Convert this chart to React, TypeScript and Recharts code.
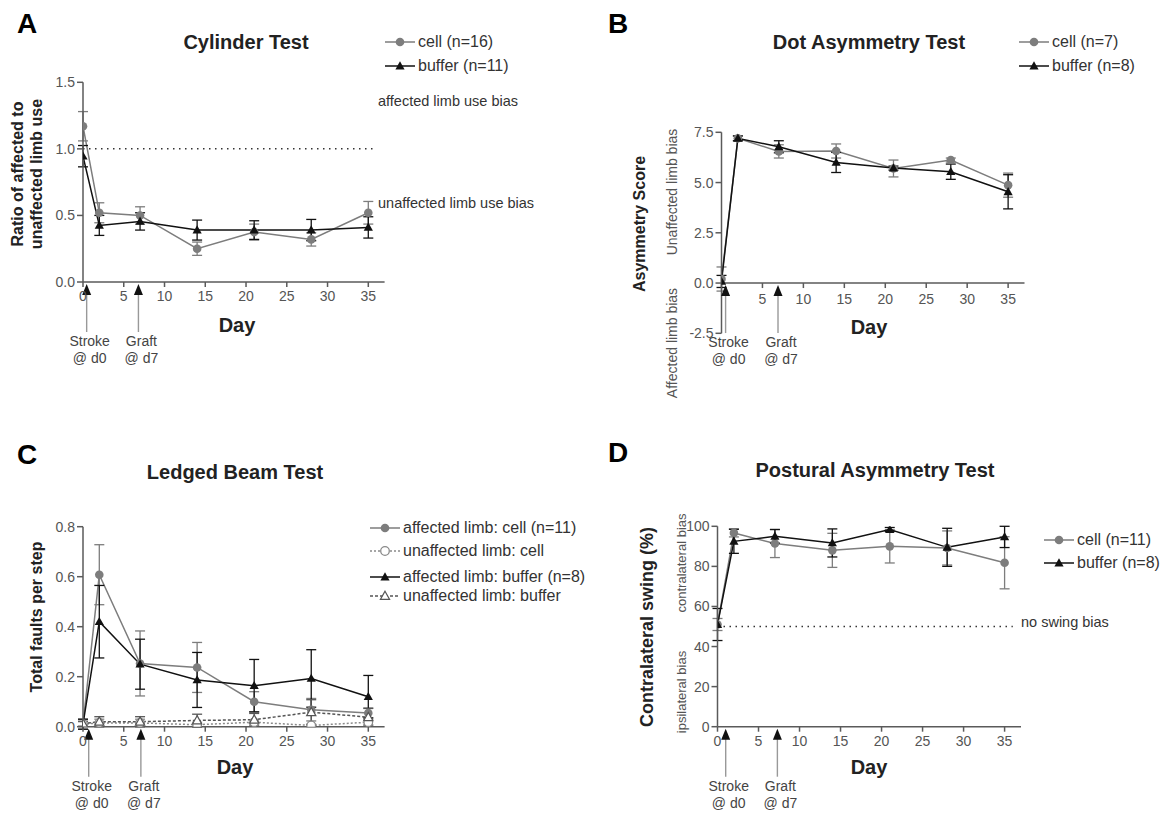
import React from 'react';
import { LineChart, Line, XAxis, YAxis, ErrorBar, ReferenceLine, ReferenceDot } from 'recharts';

const days = [0, 2, 7, 14, 21, 28, 35];
const dayTicks = [0, 5, 10, 15, 20, 25, 30, 35];

// A - Cylinder Test
const cylinderCell = [1.17, 0.52, 0.5, 0.25, 0.375, 0.32, 0.52];
const cylinderCellErr = [0.11, 0.075, 0.065, 0.05, 0.06, 0.05, 0.085];
const cylinderBuffer = [0.945, 0.425, 0.455, 0.39, 0.39, 0.39, 0.41];
const cylinderBufferErr = [0.08, 0.075, 0.065, 0.075, 0.07, 0.08, 0.08];
const cylinderTicks = [0, 0.5, 1, 1.5];

// B - Dot Asymmetry Test
const dotCell = [0.2, 7.2, 6.55, 6.57, 5.7, 6.12, 4.87];
const dotCellErr = [0.6, 0.12, 0.33, 0.35, 0.42, 0.1, 0.6];
const dotBuffer = [0.08, 7.2, 6.78, 6.0, 5.72, 5.54, 4.54];
const dotBufferErr = [0.3, 0.12, 0.3, 0.5, 0.1, 0.38, 0.85];
const dotTicks = [-2.5, 0, 2.5, 5, 7.5];

// C - Ledged Beam Test
const beamCell = [0.01, 0.608, 0.253, 0.237, 0.1, 0.068, 0.055];
const beamCellErr = [0.02, 0.12, 0.13, 0.1, 0.04, 0.045, 0.02];
const beamCellUnaff = [0.01, 0.015, 0.015, 0.008, 0.018, 0.005, 0.018];
const beamCellUnaffErr = [0.01, 0.015, 0.015, 0.01, 0.01, 0.005, 0.01];
const beamBuffer = [0.01, 0.42, 0.25, 0.187, 0.164, 0.193, 0.12];
const beamBufferErr = [0.02, 0.145, 0.1, 0.11, 0.105, 0.115, 0.085];
const beamBufferUnaff = [0.012, 0.02, 0.02, 0.025, 0.028, 0.058, 0.038];
const beamBufferUnaffErr = [0.01, 0.02, 0.02, 0.025, 0.025, 0.05, 0.035];
const beamTicks = [0, 0.2, 0.4, 0.6, 0.8];

// D - Postural Asymmetry Test
const postCell = [51, 96.7, 91.4, 88, 90, 89.2, 81.8];
const postCellErr = [3, 2, 7, 8.5, 8.3, 8.5, 13];
const postBuffer = [51, 92.5, 95, 91.7, 98.4, 89.5, 94.7];
const postBufferErr = [8, 6, 3.4, 7, 1, 9.5, 5.3];
const postTicks = [0, 20, 40, 60, 80, 100];

const GRAY = '#7d7d7d';
const BLACK = '#111';
const AXIS = '#5a5a5a';
const FONT = '"Liberation Sans", Arial, Helvetica, sans-serif';

type Shape = 'circle' | 'triangle' | 'openCircle' | 'openTriangle';
type Series = { key: string; err: string; name: string; color: string; shape: Shape; dash?: string };

const cellSeries: Series = { key: 'cell', err: 'cellErr', name: 'cell', color: GRAY, shape: 'circle' };
const bufferSeries: Series = { key: 'buffer', err: 'bufferErr', name: 'buffer', color: BLACK, shape: 'triangle' };

const rows = (cols: Record<string, number[]>) =>
  days.map((day, i) => {
    const r: Record<string, number> = { day };
    Object.keys(cols).forEach((k) => (r[k] = cols[k][i]));
    return r;
  });

const cylinderData = rows({ cell: cylinderCell, cellErr: cylinderCellErr, buffer: cylinderBuffer, bufferErr: cylinderBufferErr });
const dotData = rows({ cell: dotCell, cellErr: dotCellErr, buffer: dotBuffer, bufferErr: dotBufferErr });
const beamData = rows({
  cell: beamCell, cellErr: beamCellErr, cellU: beamCellUnaff, cellUErr: beamCellUnaffErr,
  buffer: beamBuffer, bufferErr: beamBufferErr, bufferU: beamBufferUnaff, bufferUErr: beamBufferUnaffErr,
});
const postData = rows({ cell: postCell, cellErr: postCellErr, buffer: postBuffer, bufferErr: postBufferErr });

const beamSeries: Series[] = [
  { ...cellSeries, name: 'affected limb: cell (n=11)' },
  { key: 'cellU', err: 'cellUErr', name: 'unaffected limb: cell', color: '#8a8a8a', shape: 'openCircle', dash: '2 2' },
  { ...bufferSeries, name: 'affected limb: buffer (n=8)' },
  { key: 'bufferU', err: 'bufferUErr', name: 'unaffected limb: buffer', color: '#555', shape: 'openTriangle', dash: '3 2' },
];

function Marker({ cx, cy, shape, color }: { cx?: number; cy?: number; shape: Shape; color: string }) {
  if (cx == null || cy == null) return null;
  const open = shape === 'openCircle' || shape === 'openTriangle';
  if (shape === 'circle' || shape === 'openCircle') {
    return <circle cx={cx} cy={cy} r={4.3} fill={open ? '#fff' : color} stroke={color} strokeWidth={open ? 1.3 : 0} />;
  }
  return (
    <path
      d={`M${cx},${cy - 4.8}L${cx + 4.6},${cy + 3.4}L${cx - 4.6},${cy + 3.4}Z`}
      fill={open ? '#fff' : color}
      stroke={color}
      strokeWidth={open ? 1.2 : 0}
    />
  );
}

function Arrow({ cx, cy, top, bottom }: { cx: number; cy: number; top: string; bottom: string }) {
  return (
    <g>
      <line x1={cx} x2={cx} y1={cy + 10} y2={cy + 50} stroke="#999" strokeWidth={1.4} />
      <path d={`M${cx},${cy + 2}L${cx + 4.5},${cy + 13}L${cx - 4.5},${cy + 13}Z`} fill={BLACK} />
      <text x={cx + 3} y={cy + 64} textAnchor="middle" fontSize={14} fill="#444">{top}</text>
      <text x={cx + 3} y={cy + 81} textAnchor="middle" fontSize={14} fill="#444">{bottom}</text>
    </g>
  );
}

type Box = { left: number; top: number; width: number; height: number };
type Plot = { left: number; right: number; top: number; bottom: number };

function Panel(props: {
  box: Box; plot: Plot; data: Record<string, number>[]; yDomain: [number, number]; yTicks: number[];
  fmt: (v: number) => string; series: Series[]; axisAtZero?: boolean; refY?: number;
  strokeDay: number; graftDay: number;
}) {
  const { box, plot, data, yDomain, yTicks, fmt, series, axisAtZero, refY, strokeDay, graftDay } = props;
  const YW = 45;
  const XH = 40;
  const margin = {
    left: plot.left - box.left - YW,
    top: plot.top - box.top,
    right: box.left + box.width - plot.right,
    bottom: box.top + box.height - plot.bottom - XH,
  };
  const shift = axisAtZero ? ((plot.bottom - plot.top) * (0 - yDomain[0])) / (yDomain[1] - yDomain[0]) : 0;
  const axisY = axisAtZero ? 0 : yDomain[0];
  const axisLine = { stroke: AXIS, strokeWidth: 1.5 };
  return (
    <div style={{ position: 'absolute', left: box.left, top: box.top }}>
      <LineChart width={box.width} height={box.height} data={data} margin={margin}>
        {axisAtZero ? (
          <XAxis
            type="number" dataKey="day" domain={[0, 37]} ticks={dayTicks.slice(1)} interval={0} allowDataOverflow
            height={XH} axisLine={false} tickLine={false} tickSize={0} tickMargin={0}
            tick={(p: any) => (
              <g transform={`translate(${p.x},${p.y - shift})`}>
                <line y1={0} y2={5} stroke={AXIS} strokeWidth={1.5} />
                <text y={21} textAnchor="middle" fontSize={14} fill="#555">{p.payload.value}</text>
              </g>
            )}
          />
        ) : (
          <XAxis
            type="number" dataKey="day" domain={[0, 37]} ticks={dayTicks} interval={0} allowDataOverflow
            height={XH} axisLine={axisLine} tickLine={axisLine} tickSize={5} tickMargin={4}
            tick={{ fill: '#555', fontSize: 14 }}
          />
        )}
        <YAxis
          type="number" domain={yDomain} ticks={yTicks} interval={0} allowDataOverflow width={YW}
          axisLine={axisLine} tickLine={axisLine} tickSize={6} tickMargin={2} tickFormatter={fmt}
          tick={{ fill: '#555', fontSize: 14 }}
        />
        {axisAtZero && <ReferenceLine y={0} stroke={AXIS} strokeWidth={1.5} />}
        {refY != null && (
          <ReferenceLine
            segment={[{ x: 0, y: refY }, { x: 36, y: refY }]}
            stroke="#333" strokeWidth={1.5} strokeDasharray="1.5 4.5"
          />
        )}
        {series.map((s) => (
          <Line
            key={s.key} type="linear" dataKey={s.key} stroke={s.color} strokeWidth={1.5}
            strokeDasharray={s.dash} isAnimationActive={false} activeDot={false}
            dot={(p: any) => <Marker key={`${s.key}-${p.index}`} cx={p.cx} cy={p.cy} shape={s.shape} color={s.color} />}
          >
            <ErrorBar dataKey={s.err} direction="y" width={5} stroke={s.color} strokeWidth={1.3} isAnimationActive={false} />
          </Line>
        ))}
        <ReferenceDot x={strokeDay} y={axisY} r={0}
          shape={(p: any) => <Arrow cx={p.cx} cy={p.cy} top="Stroke" bottom="@ d0" />} />
        <ReferenceDot x={graftDay} y={axisY} r={0}
          shape={(p: any) => <Arrow cx={p.cx} cy={p.cy} top="Graft" bottom="@ d7" />} />
      </LineChart>
    </div>
  );
}

function Txt(props: {
  x: number; y: number; children: React.ReactNode; size?: number; bold?: boolean; color?: string;
  rotate?: boolean; left?: boolean; lh?: number;
}) {
  const { x, y, children, size = 14, bold = false, color = '#222', rotate = false, left = false, lh = 1.2 } = props;
  return (
    <div
      style={{
        position: 'absolute', left: x, top: y, fontSize: size, fontWeight: bold ? 700 : 400, color,
        whiteSpace: 'nowrap', lineHeight: lh, textAlign: 'center',
        transform: `translate(${left ? '0' : '-50%'}, -50%)${rotate ? ' rotate(-90deg)' : ''}`,
      }}
    >
      {children}
    </div>
  );
}

function LegendRows({ left, ys, series, labels }: { left: number; ys: number[]; series: Series[]; labels: string[] }) {
  return (
    <>
      {series.map((s, i) => (
        <div
          key={s.key}
          style={{
            position: 'absolute', left, top: ys[i] - 10, height: 20, display: 'flex', alignItems: 'center',
            fontSize: 16, color: '#333', whiteSpace: 'nowrap',
          }}
        >
          <svg width={30} height={12}>
            <line x1={0} x2={30} y1={6} y2={6} stroke={s.color} strokeWidth={1.5} strokeDasharray={s.dash} />
            <Marker cx={15} cy={6} shape={s.shape} color={s.color} />
          </svg>
          <span style={{ marginLeft: 3 }}>{labels[i]}</span>
        </div>
      ))}
    </>
  );
}

export default function App() {
  const one = (v: number) => v.toFixed(1);
  const int = (v: number) => String(v);
  return (
    <div style={{ position: 'absolute', left: 0, top: 0, width: 1169, height: 815, background: '#fff', fontFamily: FONT, overflow: 'hidden' }}>
      <Panel
        box={{ left: 0, top: 0, width: 580, height: 400 }}
        plot={{ left: 83, right: 384.6, top: 82.3, bottom: 282 }}
        data={cylinderData} yDomain={[0, 1.5]} yTicks={cylinderTicks} fmt={one}
        series={[cellSeries, bufferSeries]} refY={1} strokeDay={0.45} graftDay={6.8}
      />
      <Panel
        box={{ left: 580, top: 0, width: 589, height: 400 }}
        plot={{ left: 721.5, right: 1024.5, top: 132.3, bottom: 333.3 }}
        data={dotData} yDomain={[-2.5, 7.5]} yTicks={dotTicks} fmt={one}
        series={[cellSeries, bufferSeries]} axisAtZero strokeDay={0.5} graftDay={6.9}
      />
      <Panel
        box={{ left: 0, top: 400, width: 580, height: 415 }}
        plot={{ left: 83, right: 384.6, top: 526.7, bottom: 726.7 }}
        data={beamData} yDomain={[0, 0.8]} yTicks={beamTicks} fmt={one}
        series={beamSeries} strokeDay={0.7} graftDay={7.1}
      />
      <Panel
        box={{ left: 580, top: 400, width: 589, height: 415 }}
        plot={{ left: 717.5, right: 1021, top: 526.3, bottom: 726.7 }}
        data={postData} yDomain={[0, 100]} yTicks={postTicks} fmt={int}
        series={[cellSeries, bufferSeries]} refY={50} strokeDay={1} graftDay={7.3}
      />

      {/* panel letters */}
      <Txt x={27} y={24} size={28} bold color="#000">A</Txt>
      <Txt x={618} y={24} size={28} bold color="#000">B</Txt>
      <Txt x={27} y={455} size={28} bold color="#000">C</Txt>
      <Txt x={618} y={453} size={28} bold color="#000">D</Txt>

      {/* titles */}
      <Txt x={246} y={42} size={20} bold>Cylinder Test</Txt>
      <Txt x={869} y={42} size={20} bold>Dot Asymmetry Test</Txt>
      <Txt x={235} y={472} size={20} bold>Ledged Beam Test</Txt>
      <Txt x={875} y={470} size={20} bold>Postural Asymmetry Test</Txt>

      {/* x labels */}
      <Txt x={237} y={325} size={20} bold>Day</Txt>
      <Txt x={869} y={327} size={20} bold>Day</Txt>
      <Txt x={235} y={767} size={20} bold>Day</Txt>
      <Txt x={869} y={767} size={20} bold>Day</Txt>

      {/* y labels */}
      <Txt x={27} y={174} size={16} bold rotate>Ratio of affected to<br />unaffected limb use</Txt>
      <Txt x={640} y={224} size={16} bold rotate>Asymmetry Score</Txt>
      <Txt x={672} y={192} size={14} color="#555" rotate>Unaffected limb bias</Txt>
      <Txt x={672} y={343} size={14} color="#555" rotate>Affected limb bias</Txt>
      <Txt x={37} y={617} size={16} bold rotate>Total faults per step</Txt>
      <Txt x={648} y={627} size={18} bold rotate>Contralateral swing (%)</Txt>
      <Txt x={682} y={563} size={13} color="#555" rotate>contralateral bias</Txt>
      <Txt x={682} y={692} size={13} color="#555" rotate>ipsilateral bias</Txt>

      {/* annotations */}
      <Txt x={378} y={102} size={14.5} color="#333" left>affected limb use bias</Txt>
      <Txt x={378} y={204} size={14.5} color="#333" left>unaffected limb use bias</Txt>
      <Txt x={1021} y={623} size={14.5} color="#333" left>no swing bias</Txt>

      {/* legends */}
      <LegendRows left={385} ys={[42, 66]} series={[cellSeries, bufferSeries]} labels={['cell (n=16)', 'buffer (n=11)']} />
      <LegendRows left={1019} ys={[42, 66]} series={[cellSeries, bufferSeries]} labels={['cell (n=7)', 'buffer (n=8)']} />
      <LegendRows left={370} ys={[528, 551, 577, 596]} series={beamSeries} labels={beamSeries.map((s) => s.name)} />
      <LegendRows left={1044} ys={[540, 563]} series={[cellSeries, bufferSeries]} labels={['cell (n=11)', 'buffer (n=8)']} />
    </div>
  );
}
